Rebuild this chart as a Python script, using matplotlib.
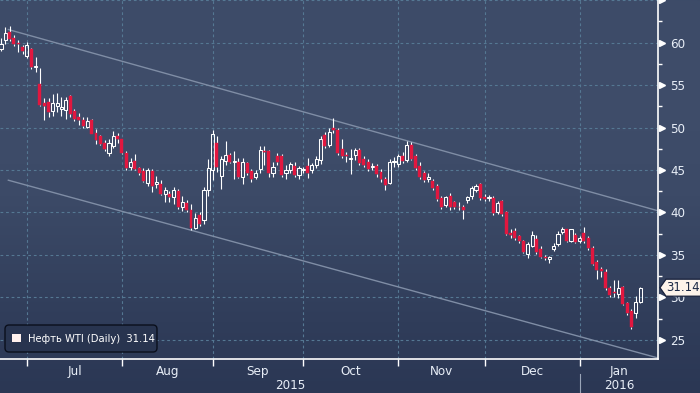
import numpy as np
import matplotlib
matplotlib.use('Agg')
import matplotlib.pyplot as plt
from matplotlib import font_manager
from matplotlib.patches import FancyBboxPatch, Polygon, Rectangle
import matplotlib.transforms as mtransforms
from matplotlib.colors import LinearSegmentedColormap

# ---------------- data (WTI daily candles, Jun 22 2015 - Jan 22 2016) ----------------
opens = [59.3, 60.3, 61.3, 60.5, 60.0, 59.5, 58.4, 59.2, 57.1, 55.1,
         52.9, 53.0, 52.0, 52.6, 52.2, 52.1, 53.7, 51.9, 51.2, 50.9,
         50.1, 50.9, 49.4, 49.0, 48.2, 47.0, 47.8, 49.0, 48.6, 47.0,
         45.3, 46.1, 45.2, 44.9, 43.5, 44.9, 43.4, 43.4, 42.2, 42.2,
         41.8, 42.5, 40.6, 41.1, 40.3, 38.2, 39.7, 39.1, 42.6, 45.0,
         48.2, 44.3, 46.1, 46.8, 46.0, 45.9, 44.2, 45.8, 44.9, 44.2,
         45.1, 47.3, 47.2, 44.6, 46.6, 46.7, 44.6, 45.0, 45.5, 44.4,
         45.0, 45.5, 45.0, 45.6, 46.2, 49.1, 48.0, 49.9, 49.7, 47.5,
         46.8, 46.3, 46.8, 47.4, 46.3, 46.0, 45.3, 45.5, 44.8, 43.9,
         43.5, 46.0, 45.7, 46.6, 46.2, 47.9, 46.7, 45.5, 44.6, 43.9,
         43.7, 43.1, 41.7, 40.9, 42.0, 41.2, 40.7, 40.6, 41.5, 41.9,
         42.7, 43.3, 41.8, 41.7, 41.7, 40.0, 41.3, 40.1, 37.6, 37.8,
         37.2, 36.6, 35.1, 36.0, 36.9, 35.7, 34.8, 34.5, 35.7, 36.3,
         37.7, 38.0, 36.6, 37.4, 36.6, 37.6, 37.0, 35.8, 34.2, 33.3,
         33.0, 31.1, 30.6, 30.4, 31.2, 29.3, 28.4, 28.2, 29.5]
highs = [60.6, 61.8, 62.0, 60.9, 60.3, 59.7, 60.1, 59.4, 58.3, 57.0,
         53.5, 53.5, 54.0, 54.1, 53.6, 53.6, 53.8, 52.2, 51.7, 51.2,
         51.3, 51.0, 49.8, 49.1, 48.5, 48.6, 49.6, 49.4, 48.7, 47.2,
         46.4, 46.9, 45.4, 45.2, 45.2, 45.1, 44.3, 43.8, 43.0, 42.5,
         43.0, 42.8, 41.9, 41.5, 41.0, 39.9, 40.1, 43.0, 46.3, 49.7,
         49.0, 46.6, 48.4, 47.0, 47.2, 46.4, 46.4, 46.0, 45.1, 45.0,
         47.8, 47.8, 47.4, 46.0, 47.0, 46.9, 45.6, 46.0, 45.9, 45.5,
         45.4, 46.4, 45.8, 46.6, 49.0, 49.5, 50.0, 51.1, 49.9, 48.6,
         47.1, 47.5, 47.6, 47.6, 46.6, 46.3, 45.8, 45.7, 45.1, 44.2,
         46.3, 46.5, 46.9, 47.1, 48.4, 48.3, 46.9, 45.9, 44.9, 44.6,
         43.9, 43.3, 41.9, 42.0, 42.3, 41.4, 41.2, 40.9, 42.0, 43.1,
         43.4, 43.5, 42.2, 42.1, 42.0, 41.4, 41.5, 40.2, 38.0, 38.2,
         37.4, 36.8, 36.5, 37.8, 37.4, 36.0, 35.0, 34.9, 36.4, 37.8,
         38.3, 38.1, 38.1, 37.6, 37.2, 38.3, 37.2, 36.0, 34.4, 33.6,
         33.3, 31.3, 32.0, 32.0, 31.3, 29.4, 28.6, 30.2, 31.2]
lows = [59.0, 59.9, 60.2, 59.6, 58.9, 58.7, 58.2, 56.9, 56.6, 52.6,
        50.9, 51.3, 51.4, 51.8, 51.4, 51.0, 51.3, 50.8, 50.3, 50.0,
        49.9, 49.2, 48.1, 47.9, 47.2, 46.7, 47.6, 48.2, 46.9, 45.0,
        45.0, 45.0, 44.4, 43.6, 43.1, 42.4, 42.9, 42.1, 41.2, 41.2,
        41.0, 40.4, 40.2, 40.1, 37.9, 38.0, 38.4, 38.6, 41.9, 43.8,
        44.8, 42.8, 45.6, 45.8, 43.9, 44.1, 43.4, 44.4, 43.6, 43.9,
        44.6, 45.6, 44.2, 44.2, 45.6, 44.2, 44.0, 44.7, 44.2, 44.0,
        44.7, 44.1, 44.6, 45.2, 45.7, 47.6, 47.7, 49.4, 46.8, 46.4,
        46.0, 44.5, 46.2, 45.6, 45.4, 44.9, 45.0, 44.2, 43.6, 42.6,
        43.3, 45.3, 45.4, 45.8, 45.9, 46.2, 45.0, 44.0, 43.6, 43.6,
        42.7, 41.4, 40.4, 40.6, 40.3, 40.4, 40.3, 39.2, 41.1, 41.6,
        42.4, 41.5, 41.3, 41.3, 39.7, 39.8, 39.6, 37.3, 37.0, 36.8,
        36.4, 35.2, 34.6, 35.9, 35.1, 34.6, 34.4, 34.0, 35.5, 36.1,
        37.5, 36.5, 36.5, 36.4, 36.4, 36.4, 35.6, 33.8, 32.2, 32.4,
        30.9, 30.0, 30.0, 29.9, 29.1, 27.9, 26.3, 27.6, 29.3]
closes = [59.9, 61.2, 60.4, 59.9, 59.8, 59.0, 59.7, 57.1, 57.2, 52.7,
          52.6, 51.8, 52.9, 52.9, 52.4, 53.2, 51.6, 51.0, 50.9, 50.2,
          50.8, 49.3, 48.5, 48.1, 47.5, 48.2, 49.0, 48.6, 47.0, 45.2,
          45.9, 45.1, 44.6, 43.7, 45.0, 43.1, 43.6, 42.2, 42.6, 41.8,
          42.6, 40.6, 41.2, 40.3, 38.2, 39.3, 38.7, 42.6, 45.2, 49.2,
          45.4, 46.3, 46.8, 46.0, 46.0, 44.2, 46.0, 44.6, 43.9, 44.6,
          47.4, 47.1, 44.7, 45.4, 45.9, 44.4, 45.0, 45.7, 44.4, 45.2,
          45.1, 44.6, 45.6, 46.3, 48.6, 47.8, 49.5, 49.7, 47.0, 46.7,
          46.6, 46.4, 47.4, 45.8, 45.6, 45.1, 45.5, 44.5, 43.9, 43.2,
          46.0, 46.1, 46.7, 46.1, 48.0, 46.3, 45.2, 44.2, 43.8, 44.2,
          42.9, 41.6, 40.6, 41.8, 40.6, 40.6, 40.6, 40.3, 41.8, 42.9,
          43.1, 41.7, 41.6, 41.8, 39.9, 41.1, 39.8, 37.5, 37.4, 37.0,
          36.6, 35.4, 36.3, 37.4, 35.3, 34.8, 34.6, 34.7, 36.1, 37.5,
          38.1, 36.6, 38.0, 36.5, 37.0, 36.6, 35.8, 33.9, 33.2, 33.1,
          31.1, 30.3, 30.5, 31.1, 29.2, 28.2, 26.5, 29.5, 31.14]

# month boundaries (candle index) and labels
month_ticks = [6, 28, 49, 70, 92, 112, 134]
month_labels = ['Jul', 'Aug', 'Sep', 'Oct', 'Nov', 'Dec', 'Jan']
year_labels = ['2015', '2016']
year_break = 134
y_ticks = [25, 30, 35, 40, 45, 50, 55, 60]

# trend channel (candle index, price)
channel_x = [1.7, 152.15]
channel_upper = [61.55, 40.2]
channel_lower = [43.8, 22.86]

series_name = 'Нефть WTI (Daily)'
last_value = 31.14

# ---------------- fonts ----------------
names = {f.name for f in font_manager.fontManager.ttflist}
if 'Liberation Sans Narrow' in names:
    NARROW, SC = 'Liberation Sans Narrow', 1.0
else:
    NARROW, SC = 'DejaVu Sans', 0.82
plt.rcParams['font.family'] = [NARROW, 'DejaVu Sans']

# ---------------- figure ----------------
W, H = 700, 393
fig = plt.figure(figsize=(W / 100, H / 100), dpi=100)

bg = fig.add_axes([0, 0, 1, 1])
bg.set_axis_off()
bg.set_zorder(-10)
cmap = LinearSegmentedColormap.from_list(
    'bg', [(0.0, '#2b3754'), (0.18, '#303d5a'), (0.5, '#3c4a67'),
           (0.75, '#3f4d6a'), (1.0, '#3d4b68')])
grad = np.linspace(0, 1, 256).reshape(-1, 1)
bg.imshow(grad, aspect='auto', cmap=cmap, origin='lower', extent=[0, 1, 0, 1])
bg.set_xlim(0, 1)
bg.set_ylim(0, 1)

AX_L, AX_B, AX_W, AX_H = 0, 34, 658, 359
ax = fig.add_axes([AX_L / W, AX_B / H, AX_W / W, AX_H / H])
ax.patch.set_visible(False)

n = len(closes)
x = np.arange(n)
o = np.array(opens)
c = np.array(closes)
hi = np.array(highs)
lo = np.array(lows)
up = c >= o
b_lo = np.minimum(o, c)
b_hi = np.maximum(o, c)
b_h = np.maximum(b_hi - b_lo, 0.06)

ax.set_xlim(-0.232, 152.15)
ax.set_ylim(22.74, 65.03)

# grid
grid_col = '#557893'
for v in range(25, 66, 5):
    ax.axhline(v, color=grid_col, lw=0.8, ls=(0, (2.5, 2.5)), zorder=1)
for t in month_ticks:
    ax.axvline(t, color=grid_col, lw=0.8, ls=(0, (2.5, 2.5)), zorder=1)

# channel
ax.plot(channel_x, channel_upper, color='#7f8da5', lw=1.0, zorder=2)
ax.plot(channel_x, channel_lower, color='#7f8da5', lw=1.0, zorder=2)

# candles
ax.vlines(x, b_hi, hi, color='white', lw=0.8, zorder=3)
ax.vlines(x, lo, b_lo, color='white', lw=0.8, zorder=3)
ax.bar(x[up], b_h[up], bottom=b_lo[up], width=0.72, facecolor='none',
       edgecolor='white', linewidth=0.75, zorder=4)
ax.bar(x[~up], b_h[~up], bottom=b_lo[~up], width=0.68, facecolor='#e2173f',
       edgecolor='#e2173f', linewidth=0.3, zorder=4)

# spines
for s in ['top', 'left']:
    ax.spines[s].set_visible(False)
for s in ['right', 'bottom']:
    ax.spines[s].set_color('white')
    ax.spines[s].set_linewidth(1.2)

# y axis
ax.yaxis.tick_right()
ax.set_yticks(y_ticks)
ax.set_yticklabels([str(v) for v in y_ticks])
ax.set_yticks(np.arange(27.5, 65, 5), minor=True)
ax.tick_params(axis='y', which='major', length=0, pad=9, labelsize=10.5 * SC,
               labelcolor='#e8eef7')
ax.tick_params(axis='y', which='minor', length=3, width=1, color='white',
               direction='out')
trans_y = mtransforms.blended_transform_factory(ax.transAxes, ax.transData)
ax.plot([1.0065] * 9, list(range(25, 66, 5)), ls='none', marker='>', ms=4.2,
        color='white', mec='white', transform=trans_y, clip_on=False, zorder=6)

# x axis
ax.set_xticks(month_ticks)
ax.set_xticklabels([''] * len(month_ticks))
ends = month_ticks[1:] + [ax.get_xlim()[1]]
centers = [(a + b) / 2 for a, b in zip(month_ticks, ends)]
ax.set_xticks(centers, minor=True)
ax.set_xticklabels(month_labels, minor=True)
ax.tick_params(axis='x', which='major', length=5, width=1, color='white',
               direction='out')
ax.tick_params(axis='x', which='minor', length=0, pad=4, labelsize=10.5 * SC,
               labelcolor='#e8eef7')

trans_x = mtransforms.blended_transform_factory(ax.transData, ax.transAxes)
xl = ax.get_xlim()
ax.text((xl[0] + year_break) / 2, -0.073, year_labels[0], transform=trans_x,
        ha='center', va='center', color='#e8eef7', fontsize=10.5 * SC)
ax.text((year_break + xl[1]) / 2, -0.073, year_labels[1], transform=trans_x,
        ha='center', va='center', color='#e8eef7', fontsize=10.5 * SC)
ax.plot([year_break, year_break], [-0.042, -0.1], transform=trans_x,
        color='#9aa5b8', lw=0.8, clip_on=False)

# legend box (pixel coords from top-left converted to display)
def px(xp, yp):
    return xp, H - yp

ident = mtransforms.IdentityTransform()
lx0, ly0 = px(5, 352)
leg = FancyBboxPatch((lx0, ly0), 152, 27,
                     boxstyle='round,pad=0,rounding_size=4',
                     facecolor='#28344f', edgecolor='#0a0f1c', linewidth=1.0,
                     transform=ident, zorder=20)
fig.add_artist(leg)
sx, sy = px(12, 342)
fig.add_artist(Rectangle((sx, sy), 9, 8.5, facecolor='#fff1ee',
                         edgecolor='none', transform=ident, zorder=21))
tx, ty = px(28, 338.5)
fig.text(tx / W, ty / H, f'{series_name}  {last_value:.2f}', color='white',
         fontsize=8.8 * SC, ha='left', va='center', zorder=22)

# last price label
yc = ax.transData.transform((0, last_value))[1]
xr = AX_W
pts = [(xr + 2, yc), (xr + 8, yc + 8.5), (W + 3, yc + 8.5),
       (W + 3, yc - 8.5), (xr + 8, yc - 8.5)]
fig.add_artist(Polygon(pts, closed=True, facecolor='#fdf3ea',
                       edgecolor='#17203a', linewidth=0.9, transform=ident,
                       zorder=30))
fig.text((xr + 25) / W, yc / H, f'{last_value:.2f}', color='#1a2845',
         fontsize=10.3 * SC, ha='center', va='center', zorder=31)

fig.savefig('out.png', dpi=100)
